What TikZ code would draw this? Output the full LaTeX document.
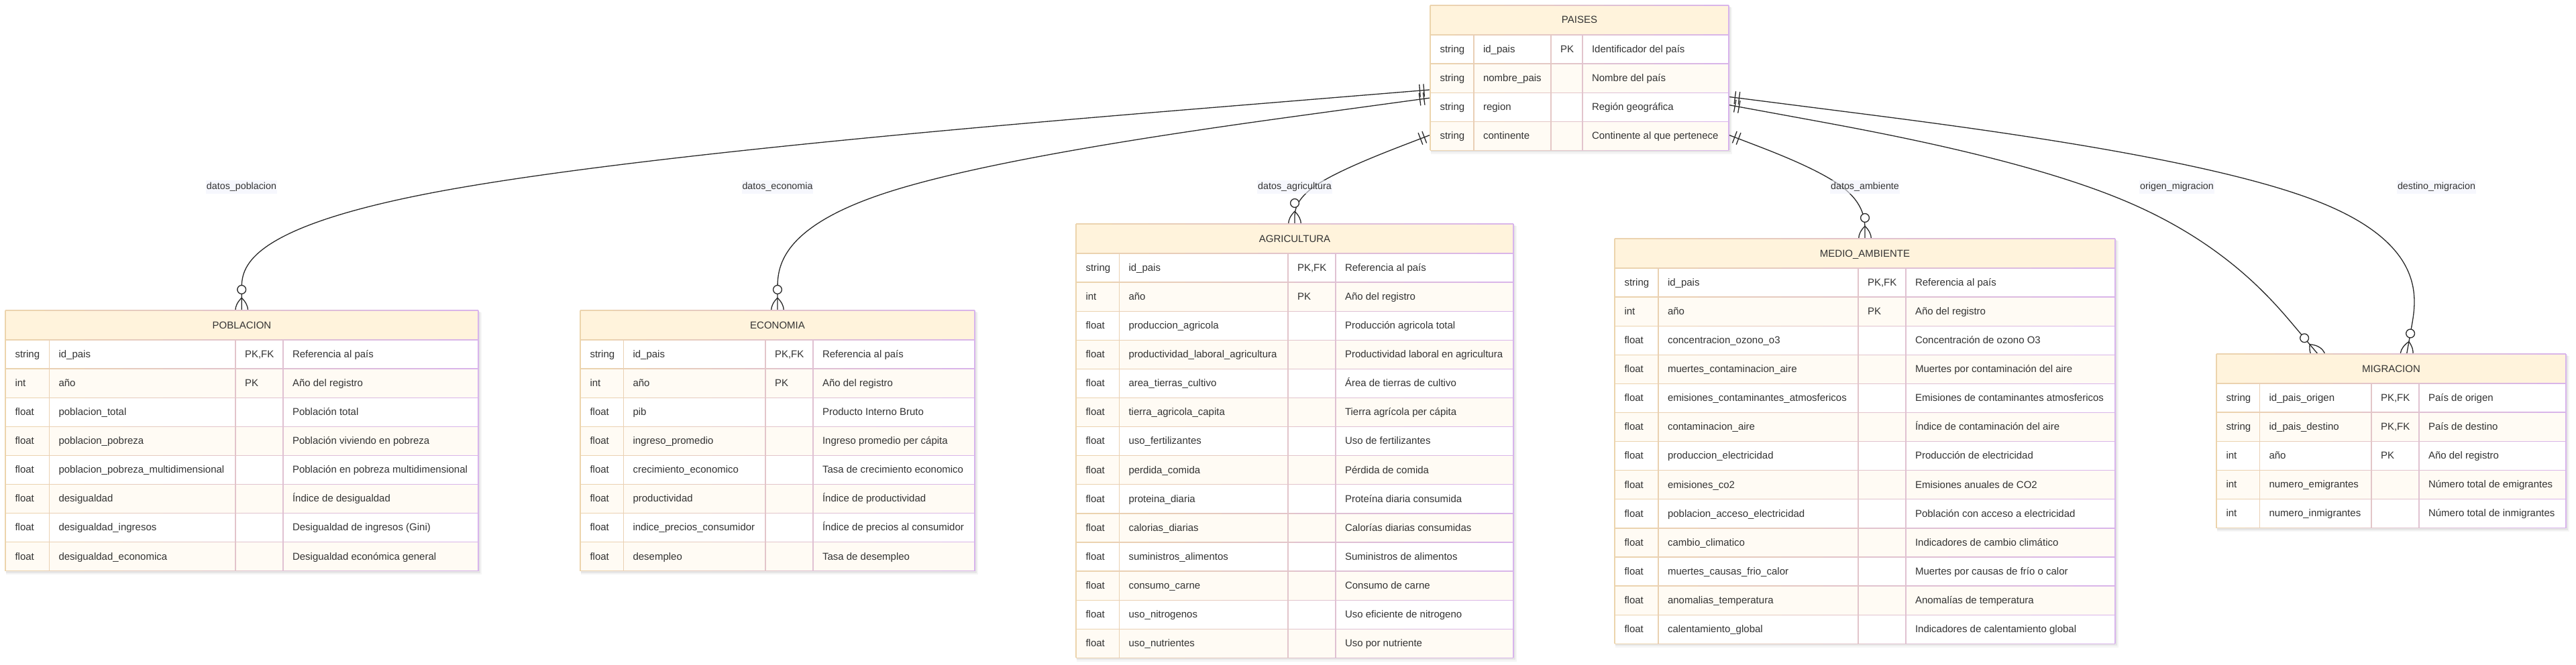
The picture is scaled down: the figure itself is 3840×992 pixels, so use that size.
\documentclass[tikz,border=0pt]{standalone}
\usepackage{fontspec}
\setmainfont{Liberation Sans}
\usetikzlibrary{calc,fit}
\definecolor{tanc}{RGB}{236,212,172}
\definecolor{lavc}{RGB}{216,180,236}
\definecolor{hdrc}{RGB}{255,243,220}
\definecolor{altc}{RGB}{255,251,244}
\definecolor{txtc}{RGB}{51,51,51}
\definecolor{linec}{RGB}{40,40,40}
\definecolor{lblbg}{RGB}{240,242,252}
\pgfdeclarelayer{bg}
\pgfsetlayers{bg,main}
\newcommand\hh{44}
\newcommand\rh{43.1}
\tikzset{
  attr/.style={anchor=base west, inner sep=0, outer sep=0, text=txtc, font=\fontsize{15}{18}\selectfont},
  ttl/.style={anchor=base, inner sep=0, outer sep=0, text=txtc, font=\fontsize{15}{18}\selectfont},
  elabel/.style={fill=lblbg, fill opacity=0.6, text opacity=1, text=txtc, inner xsep=1, inner ysep=3.5, font=\fontsize{14.3}{17}\selectfont},
  relline/.style={draw=linec, line width=1.3},
  markline/.style={draw=linec, line width=1.3},
}
% gradient horizontal rule: #1 x0, #2 x1, #3 y
\newcommand\gradrule[3]{%
  \foreach \sg in {0,...,11} {%
    \pgfmathsetmacro\pcg{(\sg+0.5)*100/12}%
    \colorlet{hcol}{lavc!\pcg!tanc}%
    \draw[hcol, line width=1.3] ({#1+(#2-#1)*\sg/12},#3) -- ({#1+(#2-#1)*(\sg+1)/12},#3);
  }%
}
% #1 name, #2..#6 column x, #7 top y, #8 title, #9 rows
\newcommand\ertable[9]{%
  \pgfmathsetmacro\tya{#7+\hh}%
  \foreach \ty/\tn/\tk/\td [count=\ri] in {#9} {\xdef\nrows{\ri}}%
  \pgfmathsetmacro\tyb{\tya+\nrows*\rh}%
  \node[fit={(#2,#7) (#6,\tyb)}, inner sep=0, outer sep=0] (#1) {};
  \fill[black, opacity=0.04] (#2+1,#7+3) rectangle (#6+4.5,\tyb+5.5);
  \fill[black, opacity=0.06] (#2+1,#7+2) rectangle (#6+2.5,\tyb+3);
  \fill[hdrc] (#2,#7) rectangle (#6,\tya);
  \node[ttl] (#1-title) at ({(#2+#6)/2}, {(#7+\tya)/2+5}) {#8};
  \foreach \ty/\tn/\tk/\td [count=\ri] in {#9} {%
    \pgfmathsetmacro\rt{\tya+(\ri-1)*\rh}%
    \pgfmathtruncatemacro\odd{mod(\ri,2)}%
    \ifnum\odd=1 \def\rowc{white}\else\def\rowc{altc}\fi
    \fill[\rowc] (#2,\rt) rectangle (#6,\rt+\rh);
    \node[attr] (#1-\ri-a) at (#2+14.5,\rt+\rh/2+4.8) {\ty};
    \node[attr] (#1-\ri-b) at (#3+14,\rt+\rh/2+4.8) {\tn};
    \node[attr] (#1-\ri-c) at (#4+14,\rt+\rh/2+4.8) {\tk};
    \node[attr] (#1-\ri-d) at (#5+14,\rt+\rh/2+4.8) {\td};
  }
  \gradrule{#2}{#6}{#7}
  \foreach \k in {0,...,\nrows} {%
    \pgfmathsetmacro\ly{\tya+\k*\rh}%
    \gradrule{#2}{#6}{\ly}
  }
  \foreach \vx in {#3,#4,#5} {%
    \pgfmathsetmacro\pc{(\vx-(#2))/((#6)-(#2))*100}%
    \colorlet{vcol}{lavc!\pc!tanc}%
    \draw[vcol, line width=1.3] (\vx,\tya) -- (\vx,\tyb);
  }
  \draw[tanc, line width=1.3] (#2,#7) -- (#2,\tyb);
  \draw[lavc, line width=1.3] (#6,#7) -- (#6,\tyb);
}
% #1 id, #2 source node, #3 #4 label point, #5 target node, #6 label text
\newcommand\erlink[6]{%
  \coordinate (#1B) at (#3,#4);
  \path (#2) -- (#1B) coordinate[pos=0] (#1A);
  \path (#1B) -- (#5) coordinate[pos=1] (#1C);
  \draw[relline] (#1A) -- ($(#1A)!1/6!(#1B)$)
    .. controls ($(#1A)!1/3!(#1B)$) and ($(#1A)!2/3!(#1B)$) .. ($1/6*(#1A)+2/3*(#1B)+1/6*(#1C)$)
    .. controls ($(#1B)!1/3!(#1C)$) and ($(#1B)!2/3!(#1C)$) .. ($(#1B)!5/6!(#1C)$) -- (#1C);
  \coordinate (#1p) at ($(#1A)!9.4pt!(#1B)$);
  \coordinate (#1q) at ($(#1A)!15.6pt!(#1B)$);
  \draw[markline] ($(#1p)!9.4pt!90:(#1B)$) -- ($(#1p)!9.4pt!-90:(#1B)$);
  \draw[markline] ($(#1q)!9.4pt!90:(#1B)$) -- ($(#1q)!9.4pt!-90:(#1B)$);
  \coordinate (#1o) at ($(#1C)!31pt!(#1B)$);
  \coordinate (#1s) at ($(#1C)!18.7pt!(#1B)$);
  \coordinate (#1e) at ($(#1C)!-18.7pt!(#1B)$);
  \coordinate (#1k) at ($(#1C)!18.7pt!90:(#1B)$);
  \coordinate (#1m) at ($(#1C)!18.7pt!-90:(#1B)$);
  \draw[markline] (#1s) .. controls ($(#1s)!2/3!(#1k)$) and ($(#1e)!2/3!(#1k)$) .. (#1e)
                        .. controls ($(#1e)!2/3!(#1m)$) and ($(#1s)!2/3!(#1m)$) .. (#1s);
  \draw[markline, fill=white] (#1o) circle[radius=6.4];
  \node[elabel] (#1L) at (#1B) {#6};
}
\begin{document}
\begin{tikzpicture}[x=1pt,y=-1pt]
\useasboundingbox (0,0) rectangle (3840,992);
\ertable{paises}{2132}{2197}{2312}{2359}{2577}{8}{PAISES}{%
string/id\_pais/PK/Identificador del país,
string/nombre\_pais//Nombre del país,
string/region//Región geográfica,
string/continente//Continente al que pertenece}
\ertable{poblacion}{8}{73.5}{351}{422}{713}{463}{POBLACION}{%
string/id\_pais/PK{,}FK/Referencia al país,
int/año/PK/Año del registro,
float/poblacion\_total//Población total,
float/poblacion\_pobreza//Población viviendo en pobreza,
float/poblacion\_pobreza\_multidimensional//Población en pobreza multidimensional,
float/desigualdad//Índice de desigualdad,
float/desigualdad\_ingresos//Desigualdad de ingresos (Gini),
float/desigualdad\_economica//Desigualdad económica general}
\ertable{economia}{865}{929.5}{1141}{1212}{1453}{463}{ECONOMIA}{%
string/id\_pais/PK{,}FK/Referencia al país,
int/año/PK/Año del registro,
float/pib//Producto Interno Bruto,
float/ingreso\_promedio//Ingreso promedio per cápita,
float/crecimiento\_economico//Tasa de crecimiento economico,
float/productividad//Índice de productividad,
float/indice\_precios\_consumidor//Índice de precios al consumidor,
float/desempleo//Tasa de desempleo}
\ertable{agricultura}{1604}{1668.5}{1920}{1991}{2256}{334}{AGRICULTURA}{%
string/id\_pais/PK{,}FK/Referencia al país,
int/año/PK/Año del registro,
float/produccion\_agricola//Producción agricola total,
float/productividad\_laboral\_agricultura//Productividad laboral en agricultura,
float/area\_tierras\_cultivo//Área de tierras de cultivo,
float/tierra\_agricola\_capita//Tierra agrícola per cápita,
float/uso\_fertilizantes//Uso de fertilizantes,
float/perdida\_comida//Pérdida de comida,
float/proteina\_diaria//Proteína diaria consumida,
float/calorias\_diarias//Calorías diarias consumidas,
float/suministros\_alimentos//Suministros de alimentos,
float/consumo\_carne//Consumo de carne,
float/uso\_nitrogenos//Uso eficiente de nitrogeno,
float/uso\_nutrientes//Uso por nutriente}
\ertable{ambiente}{2407}{2472}{2770}{2841}{3153}{356}{MEDIO\_AMBIENTE}{%
string/id\_pais/PK{,}FK/Referencia al país,
int/año/PK/Año del registro,
float/concentracion\_ozono\_o3//Concentración de ozono O3,
float/muertes\_contaminacion\_aire//Muertes por contaminación del aire,
float/emisiones\_contaminantes\_atmosfericos//Emisiones de contaminantes atmosfericos,
float/contaminacion\_aire//Índice de contaminación del aire,
float/produccion\_electricidad//Producción de electricidad,
float/emisiones\_co2//Emisiones anuales de CO2,
float/poblacion\_acceso\_electricidad//Población con acceso a electricidad,
float/cambio\_climatico//Indicadores de cambio climático,
float/muertes\_causas\_frio\_calor//Muertes por causas de frío o calor,
float/anomalias\_temperatura//Anomalías de temperatura,
float/calentamiento\_global//Indicadores de calentamiento global}
\ertable{migracion}{3304}{3368.5}{3535}{3606}{3825}{528}{MIGRACION}{%
string/id\_pais\_origen/PK{,}FK/País de origen,
string/id\_pais\_destino/PK{,}FK/País de destino,
int/año/PK/Año del registro,
int/numero\_emigrantes//Número total de emigrantes,
int/numero\_inmigrantes//Número total de inmigrantes}
\begin{pgfonlayer}{bg}
\fill[white] (0,0) rectangle (3840,992);
\erlink{r1}{paises}{360}{279}{poblacion}{datos\_poblacion}
\erlink{r2}{paises}{1159}{279}{economia}{datos\_economia}
\erlink{r3}{paises}{1930}{279}{agricultura}{datos\_agricultura}
\erlink{r4}{paises}{2780}{279}{ambiente}{datos\_ambiente}
\erlink{r5}{paises}{3245}{279}{migracion}{origen\_migracion}
\erlink{r6}{paises}{3632}{279}{migracion}{destino\_migracion}
\end{pgfonlayer}
\end{tikzpicture}
\end{document}
